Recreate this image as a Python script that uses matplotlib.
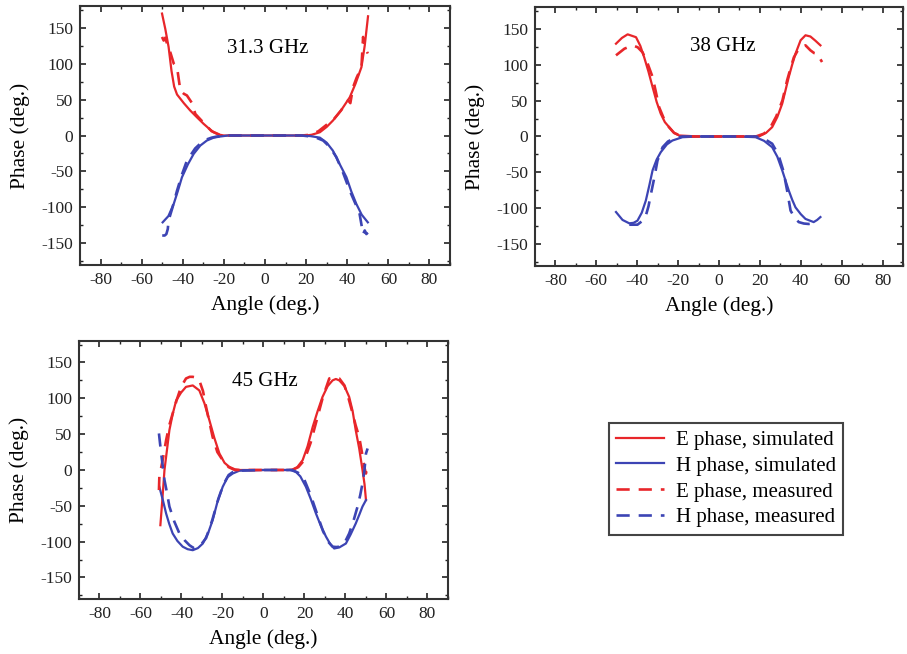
import matplotlib
matplotlib.use("Agg")
import matplotlib.pyplot as plt
from matplotlib.ticker import MultipleLocator

plt.rcParams['font.family'] = ['Liberation Serif', 'DejaVu Serif']

RED = '#e8262a'
BLUE = '#3c44b4'

# ---------------- 31.3 GHz ----------------
f1_e_sim_x = [-50.1, -48.5, -46.9, -45.5, -44.2, -42.8, -39.5, -36.4, -33, -29.9, -27, -25, -22.6, -20, -10, 0, 10, 20, 22.6, 25, 26.7, 30, 33.1, 37, 41.2, 44, 46.9, 48.5, 50.1]
f1_e_sim_y = [169.5, 148, 123, 90, 68, 57, 45, 34.8, 25, 16.3, 9, 4.6, 1.4, 0, 0, 0, 0, 0, 1, 3, 4.6, 12, 21, 35, 53, 72, 95, 125, 165.7]
f1_e_mea_x = [-50.1, -49.3, -48.5, -47.7, -46, -44.4, -42.8, -41.2, -39.5, -38, -35.5, -33.9, -30, -26, -22, -18, -10, 0, 10, 18, 22, 26, 30, 33, 37, 40.4, 41.5, 42.8, 44.5, 46.9, 47.7, 48.5, 49.3, 50]
f1_e_mea_y = [137, 132, 136, 128, 115, 100, 95, 62.7, 58, 55.7, 45, 30, 18, 6, 1, 0, 0, 0, 0, 0, 1, 6, 15, 21, 35, 49, 45, 67, 80, 95, 137, 123, 118, 114]
f1_h_sim_x = [-49.8, -47, -44.4, -42.5, -40.4, -37.5, -34.7, -31.5, -28.3, -25, -21.8, -18, -10, 0, 10, 18, 22, 26.7, 30, 33, 36, 39.6, 42, 44.4, 47, 50]
f1_h_sim_y = [-120.7, -112, -95, -78, -58, -40, -25.5, -14, -7, -3, -1.4, 0, 0, 0, 0, 0, -0.8, -3, -10, -21, -38, -58, -78, -95, -110, -120.7]
f1_h_mea_x = [-50, -48.8, -48, -47.3, -46.9, -45, -42.8, -40.5, -38, -34, -29.9, -26, -23.4, -18, -10, 0, 10, 18, 24, 28.3, 31.5, 34.7, 38, 41.2, 44, 46, 47.7, 48.5, 49.3, 50]
f1_h_mea_y = [-139, -139, -137, -130, -118, -100, -76.6, -55, -35, -18, -7, -3, -1.4, 0, 0, 0, 0, 0, -2, -7, -16, -30, -52, -76.6, -95, -109, -137, -132, -137, -135]

# ---------------- 38 GHz ----------------
f2_e_sim_x = [-50.4, -47.5, -44.7, -40.6, -38.5, -36.6, -34.5, -32.5, -30.5, -28.5, -26.5, -24.4, -22, -19.5, -10, 0, 10, 19.5, 23, 26, 28.5, 30.9, 32.5, 34.1, 35.8, 37.4, 39.9, 42.3, 44.7, 47.2, 49.6]
f2_e_sim_y = [129, 137, 142, 138, 126, 110, 90, 68.7, 48, 31.6, 20, 13, 5, 1.4, 0, 0, 0, 0, 5, 13, 27, 45.5, 64, 82.6, 100, 115, 133.7, 140.7, 139, 133, 126.7]
f2_e_mea_x = [-50.4, -46.3, -42.3, -39.8, -37.4, -35, -32.5, -30.9, -29.3, -27, -24.5, -22, -18, -10, 0, 10, 18, 22, 25, 28, 31, 33.3, 35, 36.6, 39, 42.3, 44.7, 46.5, 48, 50.4]
f2_e_mea_y = [112.8, 122, 126.7, 124, 117, 102, 82.6, 62, 40.8, 25, 13, 5, 0, 0, 0, 0, 0, 4, 12, 28, 50, 78, 95, 110, 122, 126.7, 119.8, 116, 115, 103.5]
f2_h_sim_x = [-50.4, -47.2, -43.9, -41.8, -39.9, -37.8, -35.8, -34.1, -32.5, -30.5, -28.5, -25.5, -22.8, -17.9, -10, 0, 10, 17.9, 22, 26, 28.5, 30.9, 32.5, 34.1, 35.8, 37.4, 40, 42.3, 46.3, 48, 49.6]
f2_h_sim_y = [-105, -116, -120.7, -120, -117, -106, -89, -68, -47, -32, -21.8, -11, -5.6, -1, 0, 0, 0, -1, -6, -14.9, -28, -47, -61, -75, -88, -98.5, -108, -114.6, -119, -116, -112]
f2_h_mea_x = [-43.9, -41.8, -39.9, -37.8, -35.8, -34.5, -33.3, -31.5, -30.1, -27.6, -25, -22, -18, -10, 0, 10, 18, 22, 26, 29, 31.5, 33.3, 35, 37, 39, 41.5, 43.9, 45.5, 47.2]
f2_h_mea_y = [-122.6, -122.6, -122.6, -118, -110, -97, -79.8, -55, -33.4, -14.9, -7, -2.5, 0, 0, 0, 0, 0, -3, -10, -25, -48, -75, -103, -113, -119, -121, -121.6, -121, -119]

# ---------------- 45 GHz ----------------
f3_e_sim_x = [-50.3, -49.3, -48.3, -47, -45.9, -44.3, -42.6, -40.2, -37.8, -34.5, -31.3, -28.8, -26.4, -24, -21.5, -19, -16.7, -14, -11.8, 0, 12, 14.2, 16.5, 19.1, 21.5, 24, 26.4, 28.8, 31.3, 33.7, 35.3, 37, 39.5, 41.8, 43.5, 45, 46.7, 48.3, 49.3, 50]
f3_e_sim_y = [-77, -40, 0, 30, 55.6, 78, 97, 108, 116, 118, 111, 93, 69.5, 45, 23, 10, 4.4, 1, 0, 0, 0, 0.7, 4, 13.7, 33, 60, 82, 102, 117, 125, 127, 125, 117, 102, 82, 55.6, 30, 0, -20, -42]
f3_e_mea_x = [-51, -50.8, -50, -49.2, -47.5, -46, -44.3, -42.3, -40.2, -37.8, -36, -34.5, -33, -31.3, -29.5, -28, -24.8, -22.5, -19.9, -17, -14, 0, 14, 17, 20, 23, 26, 29, 32.1, 34.5, 37, 39.5, 41.5, 43.5, 45, 46.7, 48, 49.2, 49.7, 50, 50.2]
f3_e_mea_y = [-28, -9.5, 2, 13.7, 41.6, 62, 78.8, 98, 116, 127.7, 130, 130, 129, 125, 110, 88, 46, 25, 13.7, 4, 0, 0, 0, 4, 14, 38, 70, 102, 127.7, 129, 127.7, 118, 100, 78.8, 62, 46, 25, 4.4, -2, -4.9, 0]
f3_h_sim_x = [-50.8, -49, -47.5, -46, -44.3, -42, -39.4, -37, -34.5, -32, -29.6, -27, -24.8, -22.5, -19.9, -17.5, -15, -11.8, 0, 13, 15.8, 18, 20.7, 23, 25.6, 28, 30.5, 32.5, 34.5, 37, 40.2, 42.5, 45, 46.8, 48.3, 50]
f3_h_sim_y = [-23.5, -43, -60.7, -75, -88.6, -99, -107, -110.5, -111.9, -109, -102.6, -88, -70, -45, -23.5, -10, -4.9, -1, 0, 0, -2.6, -9, -23.5, -40, -60.7, -78, -93, -103, -109.5, -108, -102.6, -90, -74.7, -62, -51, -42]
f3_h_mea_x = [-51, -50.5, -49.9, -49, -48.3, -47, -45.9, -43.5, -41, -38.5, -36.1, -34, -31, -28, -25, -22, -19.5, -17, -14, 0, 14, 17, 20, 23, 26, 29, 31.5, 33.7, 35.5, 37, 39.5, 41.8, 43.8, 45.9, 47.2, 48.3, 49.2, 50, 50.8]
f3_h_mea_y = [51, 38, 23, 2, -14, -33, -51, -72, -88.6, -98, -105, -109, -106, -95, -70, -40, -20, -7, -1, 0, 0, -4, -14, -35, -60, -85, -100, -107, -107.5, -107, -102, -88.6, -72, -51, -35, -18.8, -2, 23, 30]

panels = [
    ("31.3 GHz", [0.0882, 0.5948, 0.408, 0.396], (1.3, 121),
     (f1_e_sim_x, f1_e_sim_y), (f1_h_sim_x, f1_h_sim_y), (f1_e_mea_x, f1_e_mea_y), (f1_h_mea_x, f1_h_mea_y)),
    ("38 GHz", [0.5899, 0.5933, 0.4057, 0.396], (2, 124.5),
     (f2_e_sim_x, f2_e_sim_y), (f2_h_sim_x, f2_h_sim_y), (f2_e_mea_x, f2_e_mea_y), (f2_h_mea_x, f2_h_mea_y)),
    ("45 GHz", [0.0871, 0.0841, 0.4068, 0.3945], (0.7, 123),
     (f3_e_sim_x, f3_e_sim_y), (f3_h_sim_x, f3_h_sim_y), (f3_e_mea_x, f3_e_mea_y), (f3_h_mea_x, f3_h_mea_y)),
]

labels = ["E phase, simulated", "H phase, simulated", "E phase, measured", "H phase, measured"]

fig = plt.figure(figsize=(9.07, 6.54), dpi=100)
DASH = (0, (5.0, 3.4))
handles = None
for title, rect, tpos, es, hs, em, hm in panels:
    ax = fig.add_axes(rect)
    l1, = ax.plot(es[0], es[1], color=RED, lw=1.6)
    l2, = ax.plot(hs[0], hs[1], color=BLUE, lw=1.6)
    l3, = ax.plot(em[0], em[1], color=RED, lw=1.9, linestyle=DASH)
    l4, = ax.plot(hm[0], hm[1], color=BLUE, lw=1.9, linestyle=DASH)
    handles = [l1, l2, l3, l4]
    ax.set_xlim(-90, 90)
    ax.set_ylim(-180, 180)
    ax.xaxis.set_minor_locator(MultipleLocator(10))
    ax.yaxis.set_minor_locator(MultipleLocator(25))
    ax.set_yticks([-150, -100, -50, 0, 50, 100, 150])
    ax.set_yticklabels(['-150', '-100', '-50', '0', '50', '100', '150'])
    ax.set_xticks([-80, -60, -40, -20, 0, 20, 40, 60, 80])
    ax.set_xticklabels(['-80', '-60', '-40', '-20', '0', '20', '40', '60', '80'])
    ax.tick_params(which='both', direction='in', top=True, right=True, labelsize=12.5, colors='#222222')
    ax.tick_params(which='major', length=4.5, width=1.2, pad=5)
    ax.tick_params(which='minor', length=2.5, width=1.0)
    for s in ax.spines.values():
        s.set_linewidth(1.5)
        s.set_color('#333333')
    ax.set_xlabel("Angle (deg.)", fontsize=15.5, labelpad=5)
    ax.set_ylabel("Phase (deg.)", fontsize=15.5, labelpad=8)
    ax.text(tpos[0], tpos[1], title, fontsize=15, ha='center', va='center')

leg = fig.legend(handles, labels, loc='upper left',
                 bbox_to_anchor=(609 / 907, 1 - 423 / 654), borderaxespad=0,
                 fontsize=15, frameon=True, fancybox=False, framealpha=1,
                 edgecolor='#444444', handlelength=2.3, handletextpad=0.55,
                 labelspacing=0.3, borderpad=0.35)
leg.get_frame().set_linewidth(1.5)

fig.savefig("out.png", dpi=100)
